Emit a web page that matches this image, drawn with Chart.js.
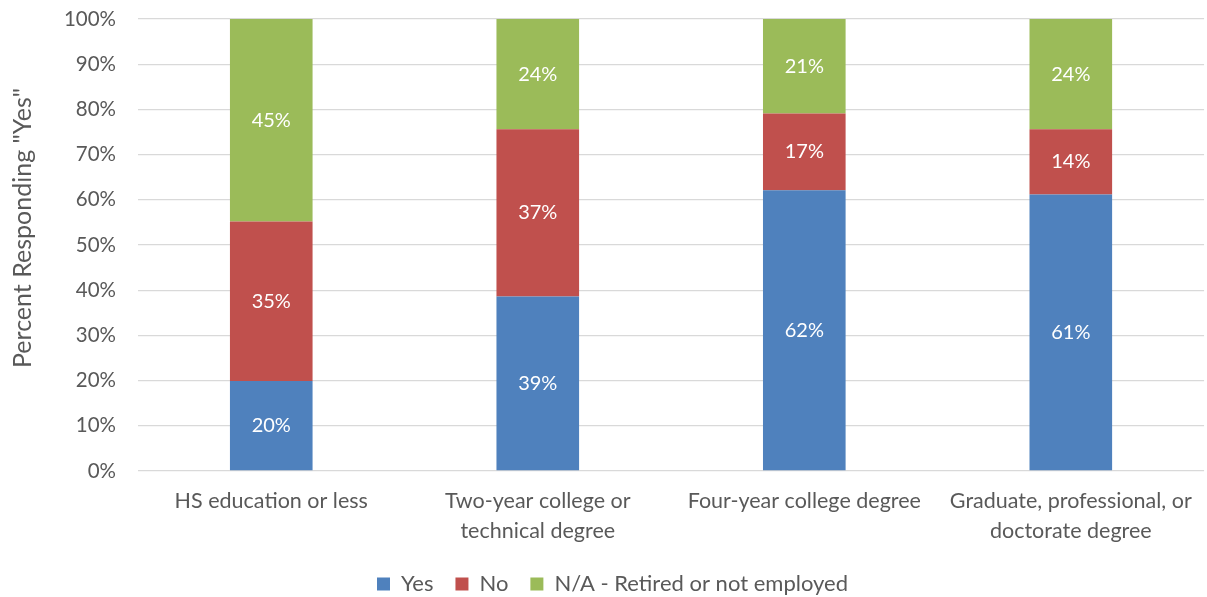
<!DOCTYPE html>
<html>
<head>
<meta charset="utf-8">
<script src="https://cdn.jsdelivr.net/npm/chart.js@4"></script>
<style>
  html, body { margin: 0; padding: 0; background: #fff; }
  #wrap { width: 1207px; height: 597px; }
</style>
</head>
<body>
<div id="wrap"><canvas id="chart" width="1207" height="597"></canvas></div>
<script>
const categories = [
  "HS education or less",
  ["Two-year college or", "technical degree"],
  "Four-year college degree",
  ["Graduate, professional, or", "doctorate degree"]
];
const yesValues = [19.9, 38.6, 62.1, 61.2];
const noValues = [35.3, 37.0, 17.0, 14.4];
const naValues = [44.8, 24.4, 20.9, 24.4];
const yTicks = [0, 10, 20, 30, 40, 50, 60, 70, 80, 90, 100];
const yTitle = 'Percent Responding "Yes"';

const FONT = "Lato, 'Open Sans', sans-serif";
const GREY = "#595959";

// white % labels in the middle of each segment
const segmentLabels = {
  id: "segmentLabels",
  afterDatasetsDraw(chart) {
    const ctx = chart.ctx;
    ctx.save();
    ctx.fillStyle = "#ffffff";
    ctx.font = "20px " + FONT;
    ctx.textAlign = "center";
    ctx.textBaseline = "middle";
    chart.data.datasets.forEach((ds, i) => {
      const meta = chart.getDatasetMeta(i);
      meta.data.forEach((bar, j) => {
        const mid = (bar.y + bar.base) / 2;
        ctx.fillText(Math.round(ds.data[j]) + "%", bar.x, mid);
      });
    });
    ctx.restore();
  }
};

// axis title, a bit above the plot centre like the original
const axisTitle = {
  id: "axisTitle",
  afterDraw(chart) {
    const ctx = chart.ctx;
    ctx.save();
    ctx.translate(23, 228);
    ctx.rotate(-Math.PI / 2);
    ctx.fillStyle = GREY;
    ctx.font = "25px " + FONT;
    ctx.textAlign = "center";
    ctx.textBaseline = "middle";
    ctx.fillText(yTitle, 0, 0);
    ctx.restore();
  }
};

// fixed legend height, and nudge it right a little
const legendTweak = {
  id: "legendTweak",
  beforeLayout(chart) {
    const lg = chart.legend;
    if (lg && !lg._patched) {
      const fit = lg.fit.bind(lg);
      lg.fit = function () { fit(); this.height = 46; };
      lg._patched = true;
    }
  },
  afterLayout(chart) {
    const lg = chart.legend;
    if (lg) { lg.left += 10; lg.right += 10; }
  }
};

const ctx = document.getElementById("chart").getContext("2d");
new Chart(ctx, {
  type: "bar",
  data: {
    labels: categories,
    datasets: [
      { label: "Yes", data: yesValues, backgroundColor: "#4F81BD" },
      { label: "No", data: noValues, backgroundColor: "#C0504D" },
      { label: "N/A - Retired or not employed", data: naValues, backgroundColor: "#9BBB59" }
    ]
  },
  options: {
    responsive: false,
    animation: false,
    devicePixelRatio: 1,
    categoryPercentage: 1,
    barPercentage: 0.31,
    layout: { padding: { top: 19, right: 2, bottom: 0, left: 0 } },
    plugins: {
      tooltip: { enabled: false },
      legend: {
        position: "bottom",
        labels: {
          color: GREY,
          font: { family: FONT, size: 22 },
          boxWidth: 13,
          boxHeight: 13,
          padding: 22
        }
      }
    },
    scales: {
      x: {
        stacked: true,
        grid: { display: false, drawTicks: false },
        border: { display: false },
        ticks: {
          color: GREY,
          font: { family: FONT, size: 21.5, lineHeight: 1.4 },
          padding: 15,
          maxRotation: 0,
          autoSkip: false
        },
        afterFit(scale) { scale.height = 80; }
      },
      y: {
        stacked: true,
        min: 0,
        max: 100,
        afterBuildTicks(scale) { scale.ticks = yTicks.map(v => ({ value: v })); },
        grid: { color: "#d9d9d9", lineWidth: 1.3, drawTicks: false },
        border: { display: false },
        ticks: {
          color: GREY,
          font: { family: FONT, size: 20.5, lineHeight: 1.2 },
          padding: 22,
          callback: v => v + "%"
        },
        afterFit(scale) {
          scale.width = 138;
          scale.paddingTop = 0;
          scale.paddingBottom = 0;
        }
      }
    }
  },
  plugins: [segmentLabels, axisTitle, legendTweak]
});
</script>
</body>
</html>
